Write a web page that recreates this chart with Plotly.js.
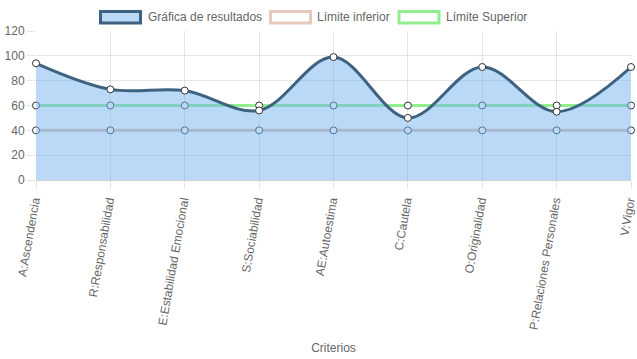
<!DOCTYPE html>
<html>
<head>
<meta charset="utf-8">
<script src="https://cdn.plot.ly/plotly-3.0.1.min.js"></script>
<style>html,body{margin:0;padding:0;background:#fff;}#chart{width:637px;height:359px;}</style>
</head>
<body>
<div id="chart"></div>
<script>
// ---- data ----
const categories = ["A:Ascendencia", "R:Responsabilidad", "E:Estabilidad Emocional", "S:Sociabilidad",
  "AE:Autoestima", "C:Cautela", "O:Originalidad", "P:Relaciones Personales", "V:Vigor"];
const resultados = [94, 73, 72, 56, 99, 50, 91, 55, 91];
const limiteInferior = [40, 40, 40, 40, 40, 40, 40, 40, 40];
const limiteSuperior = [60, 60, 60, 60, 60, 60, 60, 60, 60];
const seriesNames = ["Gráfica de resultados", "Límite inferior", "Límite Superior"];
const xTitle = "Criterios";
const yTicks = [0, 20, 40, 60, 80, 100, 120];

// ---- layout helpers (pixel -> paper) ----
const W = 637, H = 359;
const M = {l: 36, r: 6, t: 31, b: 179};
const PW = W - M.l - M.r, PH = H - M.t - M.b;
const px = x => (x - M.l) / PW;
const py = y => (H - M.b - y) / PH;

const markerStyle = {size: 7, color: "#ffffff", line: {color: "#333333", width: 1}};

const traces = [
  {x: categories, y: limiteInferior, name: seriesNames[1], type: "scatter", mode: "lines+markers",
   line: {color: "rgb(226,186,170)", width: 3}, marker: markerStyle, cliponaxis: false, showlegend: false},
  {x: categories, y: limiteSuperior, name: seriesNames[2], type: "scatter", mode: "lines+markers",
   line: {color: "rgb(144,238,144)", width: 3}, marker: markerStyle, cliponaxis: false, showlegend: false},
  {x: categories, y: resultados, name: seriesNames[0], type: "scatter", mode: "lines+markers",
   line: {color: "#3e6282", width: 3, shape: "spline", smoothing: 1},
   fill: "tozeroy", fillcolor: "rgba(116,180,240,0.5)",
   marker: markerStyle, cliponaxis: false, showlegend: false}
];

// custom Chart.js-style legend
const legendItems = [
  {box: [100.5, 140.5], text: 147, fill: "rgba(116,180,240,0.5)", stroke: "#3e6282"},
  {box: [270.5, 310.5], text: 316, fill: "#ffffff", stroke: "rgb(230,200,188)"},
  {box: [399, 439], text: 445, fill: "#ffffff", stroke: "rgb(144,238,144)"}
];
const shapes = [], annotations = [];
legendItems.forEach((it, i) => {
  shapes.push({type: "rect", xref: "paper", yref: "paper",
    x0: px(it.box[0]), x1: px(it.box[1]), y0: py(23), y1: py(11.5),
    fillcolor: it.fill, line: {color: it.stroke, width: 3}});
  annotations.push({xref: "paper", yref: "paper", x: px(it.text), y: py(16.5),
    xanchor: "left", yanchor: "middle", showarrow: false, text: seriesNames[i],
    font: {size: 12, color: "#666666"}, borderpad: 0});
});

const layout = {
  width: W, height: H,
  margin: M,
  paper_bgcolor: "#ffffff", plot_bgcolor: "#ffffff",
  font: {family: "Liberation Sans, Arial, Helvetica, sans-serif", size: 12, color: "#666666"},
  showlegend: false,
  xaxis: {
    type: "category", range: [0, categories.length - 1],
    showgrid: true, gridcolor: "rgba(0,0,0,0.1)", gridwidth: 1,
    ticks: "outside", ticklen: 8, tickcolor: "rgba(0,0,0,0.1)",
    tickangle: -80, tickfont: {size: 12, color: "#666666"}, ticklabelshift: -2,
    showline: false, zeroline: false, automargin: false,
    title: {text: xTitle, font: {size: 12, color: "#666666"}, standoff: 13}
  },
  yaxis: {
    range: [0, 120], tickvals: yTicks,
    showgrid: true, gridcolor: "rgba(0,0,0,0.1)", gridwidth: 1,
    zeroline: true, zerolinecolor: "rgba(0,0,0,0.18)", zerolinewidth: 1,
    ticks: "outside", ticklen: 8, tickcolor: "rgba(0,0,0,0.1)",
    tickfont: {size: 12, color: "#666666"},
    showline: false, automargin: false
  },
  shapes: shapes,
  annotations: annotations
};

Plotly.newPlot("chart", traces, layout, {displayModeBar: false, staticPlot: true});
</script>
</body>
</html>
